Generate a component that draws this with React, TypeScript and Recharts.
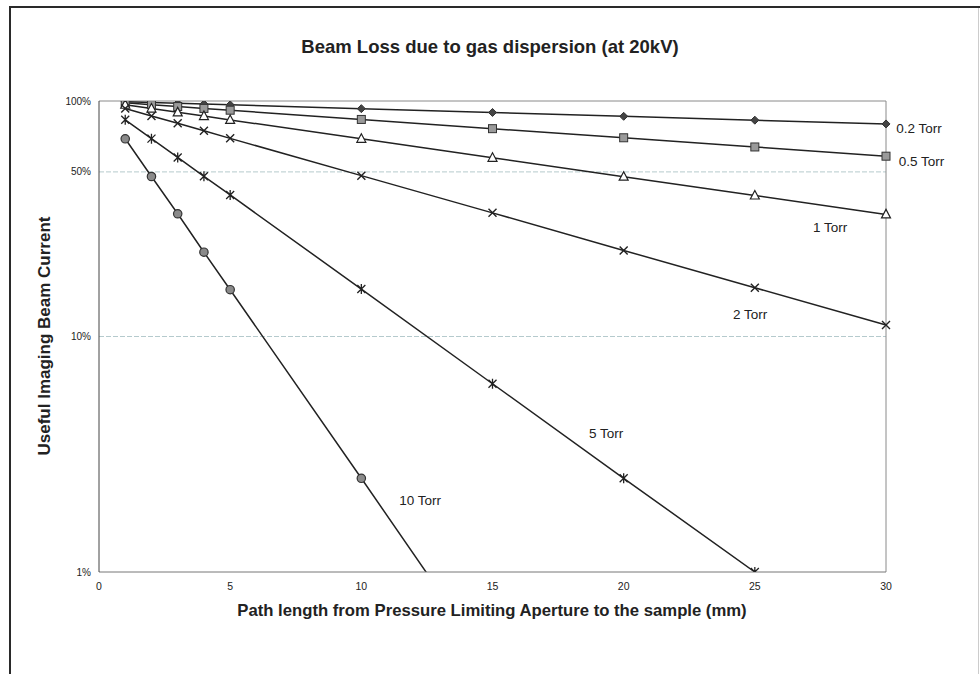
import React from 'react';
import { LineChart, Line, XAxis, YAxis, ReferenceLine, ReferenceDot } from 'recharts';

// path length (mm)
const lengths = [1, 2, 3, 4, 5, 10, 15, 20, 25, 30];

// useful beam current (%) per pressure
const torr02 = [99.3, 98.5, 97.8, 97.1, 96.3, 92.8, 89.4, 86.1, 82.9, 79.9];
const torr05 = [98.2, 96.5, 94.7, 93.0, 91.4, 83.5, 76.3, 69.8, 63.8, 58.3];
const torr1 = [96.4, 92.9, 89.5, 86.3, 83.1, 69.1, 57.4, 47.7, 39.7, 33.0];
const torr2 = [93.0, 86.4, 80.4, 74.7, 69.4, 48.2, 33.5, 23.2, 16.1, 11.2];
const torr5 = [83.2, 69.2, 57.6, 47.9, 39.9, 15.9, 6.3, 2.5, 1.0, null];
const torr10 = [69.1, 47.8, 33.2, 22.8, 15.8, 2.5, 0.39, null, null, null];

const xTicks = [0, 5, 10, 15, 20, 25, 30];
const yTicks = [1, 10, 50, 100];
const gridValues = [10, 50];

// series labels and where they sit (data units)
const seriesNames = ['0.2 Torr', '0.5  Torr', '1 Torr', '2 Torr', '5 Torr', '10 Torr'];
const labelX = [31.26, 31.35, 27.87, 24.82, 19.33, 12.24];
const labelY = [76.8, 55.6, 29.2, 12.46, 3.89, 2.02];

const data = lengths.map((x, i) => ({
  x,
  t02: torr02[i],
  t05: torr05[i],
  t1: torr1[i],
  t2: torr2[i],
  t5: torr5[i],
  t10: torr10[i],
}));

const INK = '#222';
const FONT = '"Liberation Sans", Arial, sans-serif';

type Kind = 'diamond' | 'square' | 'triangle' | 'cross' | 'star' | 'circle';

const makeDot = (kind: Kind) => (props: any) => {
  const { cx, cy, index } = props;
  const key = `${kind}-${index}`;
  if (cx == null || cy == null || isNaN(cy)) return <g key={key} />;
  switch (kind) {
    case 'diamond':
      return (
        <path key={key} d={`M${cx},${cy - 4}L${cx + 4},${cy}L${cx},${cy + 4}L${cx - 4},${cy}Z`} fill="#444" stroke="#333" />
      );
    case 'square':
      return <rect key={key} x={cx - 4} y={cy - 4} width={8} height={8} fill="#9a9a9a" stroke="#333" strokeWidth={1} />;
    case 'triangle':
      return (
        <path key={key} d={`M${cx},${cy - 5}L${cx + 4.5},${cy + 3.5}L${cx - 4.5},${cy + 3.5}Z`} fill="#fff" stroke="#222" strokeWidth={1.2} />
      );
    case 'cross':
      return (
        <path key={key} d={`M${cx - 4},${cy - 4}L${cx + 4},${cy + 4}M${cx - 4},${cy + 4}L${cx + 4},${cy - 4}`} stroke="#222" strokeWidth={1.4} />
      );
    case 'star':
      return (
        <path
          key={key}
          d={`M${cx - 4},${cy - 4}L${cx + 4},${cy + 4}M${cx - 4},${cy + 4}L${cx + 4},${cy - 4}M${cx},${cy - 5}L${cx},${cy + 5}`}
          stroke="#222"
          strokeWidth={1.3}
        />
      );
    default:
      return <circle key={key} cx={cx} cy={cy} r={4.2} fill="#8a8a8a" stroke="#333" strokeWidth={1.2} />;
  }
};

const series: { key: string; kind: Kind }[] = [
  { key: 't02', kind: 'diamond' },
  { key: 't05', kind: 'square' },
  { key: 't1', kind: 'triangle' },
  { key: 't2', kind: 'cross' },
  { key: 't5', kind: 'star' },
  { key: 't10', kind: 'circle' },
];

export default function App() {
  return (
    <div
      style={{
        position: 'absolute',
        left: 0,
        top: 0,
        width: 980,
        height: 674,
        background: '#fff',
        fontFamily: FONT,
        color: INK,
        overflow: 'hidden',
      }}
    >
      {/* page frame */}
      <div style={{ position: 'absolute', left: 9, top: 6, width: 980, height: 2, background: '#2a2a2a' }} />
      <div style={{ position: 'absolute', left: 9, top: 6, width: 2, height: 680, background: '#2a2a2a' }} />
      <div style={{ position: 'absolute', left: 978, top: 8, width: 1, height: 680, background: '#ccc' }} />

      <LineChart
        width={980}
        height={674}
        data={data}
        margin={{ top: 101, right: 94, bottom: 72, left: 39 }}
        style={{ position: 'absolute', left: 0, top: 0 }}
      >
        <XAxis
          dataKey="x"
          type="number"
          domain={[0, 30]}
          ticks={xTicks}
          height={30}
          tickLine={false}
          tickMargin={5}
          stroke="#777"
          tick={{ fill: INK, fontSize: 10.5, fontFamily: FONT }}
        />
        <YAxis
          scale="log"
          domain={[1, 100]}
          ticks={yTicks}
          allowDataOverflow
          width={60}
          tickLine={false}
          stroke="#444"
          tickFormatter={(v: number) => `${v}%`}
          tick={{ fill: INK, fontSize: 10, fontFamily: FONT }}
        />
        {gridValues.map((v) => (
          <ReferenceLine key={v} y={v} stroke="#b5cacd" strokeDasharray="5 2" />
        ))}
        <ReferenceLine y={100} stroke="#8a8a8a" />
        <ReferenceLine x={30} stroke="#8a8a8a" />
        {series.map((s) => (
          <Line
            key={s.key}
            dataKey={s.key}
            stroke={INK}
            strokeWidth={1.5}
            dot={makeDot(s.kind)}
            activeDot={false}
            isAnimationActive={false}
          />
        ))}
        {seriesNames.map((name, i) => (
          <ReferenceDot
            key={name}
            x={labelX[i]}
            y={labelY[i]}
            r={0}
            fill="none"
            stroke="none"
            ifOverflow="visible"
            label={{ value: name, position: 'center', fill: INK, fontSize: 13.5, fontFamily: FONT }}
          />
        ))}
      </LineChart>

      <div
        style={{
          position: 'absolute',
          left: 0,
          width: 980,
          top: 36,
          textAlign: 'center',
          fontWeight: 'bold',
          fontSize: 18.5,
        }}
      >
        Beam Loss due to gas dispersion (at 20kV)
      </div>
      <div
        style={{
          position: 'absolute',
          left: 492 - 300,
          width: 600,
          top: 601,
          textAlign: 'center',
          fontWeight: 'bold',
          fontSize: 16.7,
        }}
      >
        Path length from Pressure Limiting Aperture to the sample (mm)
      </div>
      <div
        style={{
          position: 'absolute',
          left: 45 - 150,
          top: 336 - 10,
          width: 300,
          height: 20,
          lineHeight: '20px',
          textAlign: 'center',
          fontWeight: 'bold',
          fontSize: 17,
          transform: 'rotate(-90deg)',
        }}
      >
        Useful Imaging Beam Current
      </div>
    </div>
  );
}
